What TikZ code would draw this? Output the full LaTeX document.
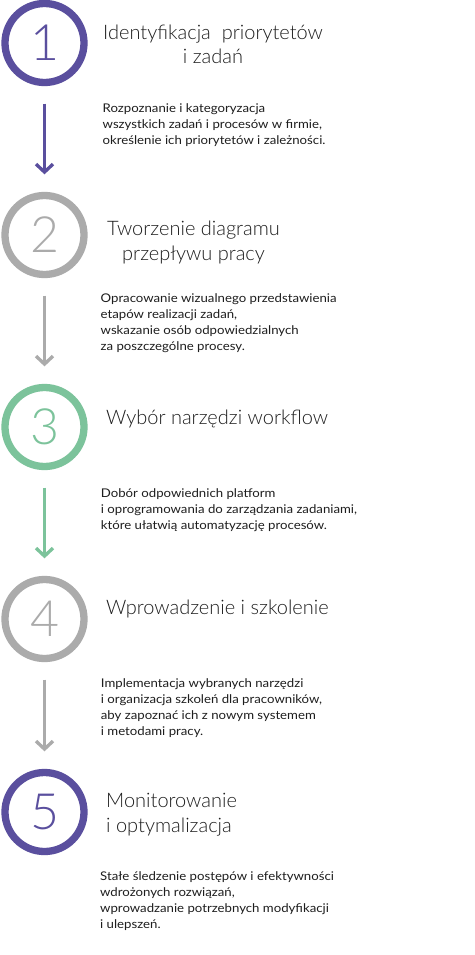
\documentclass[tikz,border=0pt]{standalone}
\usepackage{fontspec}
\setmainfont{Lato}[FakeStretch=1.1]
\newfontfamily\lightfont{Lato Light}
\usetikzlibrary{arrows.meta}
\definecolor{cpurple}{HTML}{5A4F9E}
\definecolor{cgray}{HTML}{ABABAB}
\definecolor{cgreen}{HTML}{7CC39B}
\definecolor{ctext}{HTML}{1E1E1E}
\begin{document}
\begin{tikzpicture}[x=1pt,y=-1pt,
  stepcircle/.style={circle,draw=#1,text=#1,line width=7.3pt,minimum size=79pt,inner sep=0pt,
    font=\lightfont\fontsize{50}{50}\selectfont},
  steptitle/.style={anchor=base west,align=center,inner sep=0pt,text=ctext,
    font=\lightfont\fontsize{20}{24.8}\selectfont},
  stepdesc/.style={anchor=base west,align=left,inner sep=0pt,text=ctext,
    font=\fontsize{12}{16}\selectfont},
  steparrow/.style={draw=#1,line width=3.3pt,shorten <=17.5pt,shorten >=17.5pt,
    -{Straight Barb[length=8pt,width=17pt,line width=3.3pt]}}]
\useasboundingbox[fill=white] (0,0) rectangle (474,955);
\node[stepcircle=cpurple] (c1) at (44.5,43) {1};
\node[stepcircle=cgray] (c2) at (44.5,235) {2};
\node[stepcircle=cgreen] (c3) at (44.5,427) {3};
\node[stepcircle=cgray] (c4) at (44.5,619) {4};
\node[stepcircle=cpurple] (c5) at (44.5,812) {5};
\draw[steparrow=cpurple] (c1) -- (c2);
\draw[steparrow=cgray] (c2) -- (c3);
\draw[steparrow=cgreen] (c3) -- (c4);
\draw[steparrow=cgray] (c4) -- (c5);
% base anchor of a multi-line node = baseline of its last line
\node[steptitle] (t1) at (103,64) {Identyfikacja\ \ priorytetów\\i zadań};
\node[steptitle] (t2) at (107,260) {Tworzenie diagramu\\przepływu pracy};
\node[steptitle] (t3) at (106,424) {Wybór narzędzi workflow};
\node[steptitle] (t4) at (106,614) {Wprowadzenie i szkolenie};
\node[steptitle,align=left] (t5) at (106,832.7) {Monitorowanie\\i optymalizacja};
\node[stepdesc] (d1) at (102.5,144) {Rozpoznanie i kategoryzacja\\wszystkich zadań i procesów w firmie,\\określenie ich priorytetów i zależności.};
\node[stepdesc] (d2) at (100.5,350.7) {Opracowanie wizualnego przedstawienia\\etapów realizacji zadań,\\wskazanie osób odpowiedzialnych\\za poszczególne procesy.};
\node[stepdesc] (d3) at (100.7,529) {Dobór odpowiednich platform\\i oprogramowania do zarządzania zadaniami,\\które ułatwią automatyzację procesów.};
\node[stepdesc] (d4) at (100.7,735) {Implementacja wybranych narzędzi\\i organizacja szkoleń dla pracowników,\\aby zapoznać ich z nowym systemem\\i metodami pracy.};
\node[stepdesc] (d5) at (100,928.3) {Stałe śledzenie postępów i efektywności\\wdrożonych rozwiązań,\\wprowadzanie potrzebnych modyfikacji\\i ulepszeń.};
\end{tikzpicture}
\end{document}
